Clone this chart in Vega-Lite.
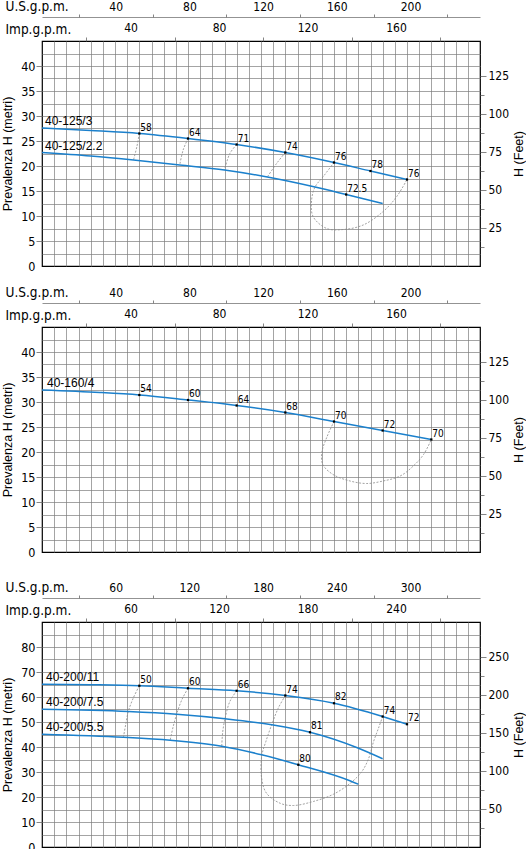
{
  "$schema": "https://vega.github.io/schema/vega-lite/v6.json",
  "padding": {"left": 1, "top": -2, "right": 0, "bottom": 2},
  "background": "white",
  "datasets": {
    "c1": [
      {"s": "40-125/3", "q": 0, "h": 27.6}, {"s": "40-125/3", "q": 100, "h": 27.1}, {"s": "40-125/3", "q": 200, "h": 26.5},
      {"s": "40-125/3", "q": 300, "h": 25.5}, {"s": "40-125/3", "q": 400, "h": 24.3}, {"s": "40-125/3", "q": 500, "h": 22.7},
      {"s": "40-125/3", "q": 600, "h": 20.7}, {"s": "40-125/3", "q": 675, "h": 19.0}, {"s": "40-125/3", "q": 750, "h": 17.3},
      {"s": "40-125/2.2", "q": 0, "h": 22.7}, {"s": "40-125/2.2", "q": 100, "h": 22.0}, {"s": "40-125/2.2", "q": 188, "h": 21.2},
      {"s": "40-125/2.2", "q": 283, "h": 20.2}, {"s": "40-125/2.2", "q": 375, "h": 19.2}, {"s": "40-125/2.2", "q": 463, "h": 17.8},
      {"s": "40-125/2.2", "q": 561, "h": 15.8}, {"s": "40-125/2.2", "q": 625, "h": 14.3}, {"s": "40-125/2.2", "q": 700, "h": 12.5}
    ],
    "e1": [
      {"q": 200, "h": 26.5, "e": "58"}, {"q": 300, "h": 25.5, "e": "64"}, {"q": 400, "h": 24.3, "e": "71"},
      {"q": 500, "h": 22.7, "e": "74"}, {"q": 600, "h": 20.7, "e": "76"}, {"q": 675, "h": 19.0, "e": "78"},
      {"q": 750, "h": 17.3, "e": "76"}, {"q": 625, "h": 14.3, "e": "72.5"}
    ],
    "d1": [
      {"s": "58", "i": 0, "q": 200, "h": 26.5}, {"s": "58", "i": 1, "q": 195, "h": 23.9}, {"s": "58", "i": 2, "q": 188, "h": 21.2},
      {"s": "64", "i": 0, "q": 300, "h": 25.5}, {"s": "64", "i": 1, "q": 290, "h": 23.2}, {"s": "64", "i": 2, "q": 283, "h": 20.2},
      {"s": "71", "i": 0, "q": 400, "h": 24.3}, {"s": "71", "i": 1, "q": 386, "h": 22.5}, {"s": "71", "i": 2, "q": 375, "h": 19.2},
      {"s": "74", "i": 0, "q": 500, "h": 22.7}, {"s": "74", "i": 1, "q": 482, "h": 20.5}, {"s": "74", "i": 2, "q": 463, "h": 17.8},
      {"s": "76", "i": 0, "q": 600, "h": 20.7}, {"s": "76", "i": 1, "q": 578, "h": 17.9}, {"s": "76", "i": 2, "q": 561, "h": 15.8},
      {"s": "76", "i": 3, "q": 554, "h": 13.2}, {"s": "76", "i": 4, "q": 557, "h": 9.9}, {"s": "76", "i": 5, "q": 585, "h": 7.5},
      {"s": "76", "i": 6, "q": 619, "h": 7.3}, {"s": "76", "i": 7, "q": 660, "h": 8.2}, {"s": "76", "i": 8, "q": 701, "h": 10.9},
      {"s": "76", "i": 9, "q": 729, "h": 13.9}, {"s": "76", "i": 10, "q": 750, "h": 17.3}
    ],
    "c2": [
      {"s": "40-160/4", "q": 0, "h": 32.4}, {"s": "40-160/4", "q": 119, "h": 31.9}, {"s": "40-160/4", "q": 200, "h": 31.4},
      {"s": "40-160/4", "q": 300, "h": 30.4}, {"s": "40-160/4", "q": 400, "h": 29.3}, {"s": "40-160/4", "q": 500, "h": 27.9},
      {"s": "40-160/4", "q": 600, "h": 26.1}, {"s": "40-160/4", "q": 700, "h": 24.3}, {"s": "40-160/4", "q": 800, "h": 22.5}
    ],
    "e2": [
      {"q": 200, "h": 31.4, "e": "54"}, {"q": 300, "h": 30.4, "e": "60"}, {"q": 400, "h": 29.3, "e": "64"},
      {"q": 500, "h": 27.9, "e": "68"}, {"q": 600, "h": 26.1, "e": "70"}, {"q": 700, "h": 24.3, "e": "72"},
      {"q": 800, "h": 22.5, "e": "70"}
    ],
    "d2": [
      {"s": "70", "i": 0, "q": 600, "h": 26.1}, {"s": "70", "i": 1, "q": 585, "h": 22.9}, {"s": "70", "i": 2, "q": 575, "h": 19.9},
      {"s": "70", "i": 3, "q": 577, "h": 17.5}, {"s": "70", "i": 4, "q": 598, "h": 15.5}, {"s": "70", "i": 5, "q": 633, "h": 14.2},
      {"s": "70", "i": 6, "q": 667, "h": 13.7}, {"s": "70", "i": 7, "q": 701, "h": 14.2}, {"s": "70", "i": 8, "q": 736, "h": 15.2},
      {"s": "70", "i": 9, "q": 763, "h": 17.2}, {"s": "70", "i": 10, "q": 784, "h": 19.5}, {"s": "70", "i": 11, "q": 800, "h": 22.5}
    ],
    "c3": [
      {"s": "40-200/11", "q": 0, "h": 65.1}, {"s": "40-200/11", "q": 150, "h": 64.9}, {"s": "40-200/11", "q": 300, "h": 64.5},
      {"s": "40-200/11", "q": 450, "h": 63.5}, {"s": "40-200/11", "q": 600, "h": 62.5}, {"s": "40-200/11", "q": 750, "h": 60.6},
      {"s": "40-200/11", "q": 900, "h": 57.5}, {"s": "40-200/11", "q": 1050, "h": 52.2}, {"s": "40-200/11", "q": 1125, "h": 49.1},
      {"s": "40-200/7.5", "q": 0, "h": 55.1}, {"s": "40-200/7.5", "q": 266, "h": 54.2}, {"s": "40-200/7.5", "q": 415, "h": 53.1},
      {"s": "40-200/7.5", "q": 564, "h": 51.3}, {"s": "40-200/7.5", "q": 708, "h": 48.9}, {"s": "40-200/7.5", "q": 826, "h": 45.9},
      {"s": "40-200/7.5", "q": 970, "h": 39.8}, {"s": "40-200/7.5", "q": 1050, "h": 35.3},
      {"s": "40-200/5.5", "q": 0, "h": 45.1}, {"s": "40-200/5.5", "q": 251, "h": 43.9}, {"s": "40-200/5.5", "q": 395, "h": 42.7},
      {"s": "40-200/5.5", "q": 554, "h": 40.3}, {"s": "40-200/5.5", "q": 677, "h": 36.9}, {"s": "40-200/5.5", "q": 790, "h": 32.9},
      {"s": "40-200/5.5", "q": 949, "h": 26.5}, {"s": "40-200/5.5", "q": 975, "h": 25.1}
    ],
    "e3": [
      {"q": 300, "h": 64.5, "e": "50"}, {"q": 450, "h": 63.5, "e": "60"}, {"q": 600, "h": 62.5, "e": "66"},
      {"q": 750, "h": 60.6, "e": "74"}, {"q": 900, "h": 57.5, "e": "82"}, {"q": 1050, "h": 52.2, "e": "74"},
      {"q": 1125, "h": 49.1, "e": "72"}, {"q": 826, "h": 45.9, "e": "81"}, {"q": 790, "h": 32.9, "e": "80"}
    ],
    "d3": [
      {"s": "50", "i": 0, "q": 300, "h": 64.5}, {"s": "50", "i": 1, "q": 281, "h": 59.5}, {"s": "50", "i": 2, "q": 266, "h": 54.2},
      {"s": "50", "i": 3, "q": 258, "h": 49.0}, {"s": "50", "i": 4, "q": 251, "h": 43.9},
      {"s": "60", "i": 0, "q": 450, "h": 63.5}, {"s": "60", "i": 1, "q": 431, "h": 58.9}, {"s": "60", "i": 2, "q": 415, "h": 53.1},
      {"s": "60", "i": 3, "q": 404, "h": 48.0}, {"s": "60", "i": 4, "q": 395, "h": 42.7},
      {"s": "66", "i": 0, "q": 600, "h": 62.5}, {"s": "66", "i": 1, "q": 579, "h": 58.2}, {"s": "66", "i": 2, "q": 564, "h": 51.3},
      {"s": "66", "i": 3, "q": 557, "h": 46.0}, {"s": "66", "i": 4, "q": 554, "h": 40.3},
      {"s": "74", "i": 0, "q": 750, "h": 60.6}, {"s": "74", "i": 1, "q": 728, "h": 55.5}, {"s": "74", "i": 2, "q": 708, "h": 48.9},
      {"s": "74", "i": 3, "q": 690, "h": 42.2}, {"s": "74", "i": 4, "q": 677, "h": 36.2}, {"s": "74", "i": 5, "q": 677, "h": 27.5},
      {"s": "74", "i": 6, "q": 692, "h": 21.5}, {"s": "74", "i": 7, "q": 734, "h": 17.5}, {"s": "74", "i": 8, "q": 775, "h": 16.6},
      {"s": "74", "i": 9, "q": 836, "h": 18.2}, {"s": "74", "i": 10, "q": 898, "h": 21.1}, {"s": "74", "i": 11, "q": 950, "h": 25.5},
      {"s": "74", "i": 12, "q": 986, "h": 30.2}, {"s": "74", "i": 13, "q": 1007, "h": 35.5}, {"s": "74", "i": 14, "q": 1022, "h": 42.2},
      {"s": "74", "i": 15, "q": 1037, "h": 47.5}, {"s": "74", "i": 16, "q": 1050, "h": 52.2}
    ]
  },
  "vconcat": [
    {
      "width": 438,
      "height": 225,
      "layer": [
        {
          "data": {"name": "d1"},
          "mark": {"type": "line", "color": "#8a8a8a", "strokeWidth": 0.8, "strokeDash": [2, 1.5], "interpolate": "catmull-rom"},
          "encoding": {
            "x": {"field": "q", "type": "quantitative", "scale": {"domain": [0, 900], "nice": false},
              "axis": {"orient": "bottom", "title": null, "labels": false, "ticks": true, "tickSize": 11.9, "tickOpacity": 0, "domain": false,
                "values": [25,50,75,100,125,150,175,200,225,250,275,300,325,350,375,400,425,450,475,500,525,550,575,600,625,650,675,700,725,750,775,800,825,850,875]}},
            "y": {"field": "h", "type": "quantitative", "scale": {"domain": [0, 45], "nice": false},
              "axis": {"orient": "left", "title": "Prevalenza H (metri)", "domain": false, "tickSize": 6, "labelPadding": 1, "titlePadding": 6,
                "values": [0,2.5,5,7.5,10,12.5,15,17.5,20,22.5,25,27.5,30,32.5,35,37.5,40,42.5,45],
                "labelExpr": "datum.value % 5 === 0 && datum.value < 45 ? datum.label : ''",
                "tickOpacity": {"condition": {"test": "datum.value % 5 !== 0 || datum.value >= 45 || datum.value === 0", "value": 0}, "value": 1},
                "gridOpacity": {"condition": {"test": "datum.value === 0 || datum.value >= 45", "value": 0}, "value": 1}}},
            "detail": {"field": "s"},
            "order": {"field": "i"}
          }
        },
        {
          "data": {"name": "c1"},
          "mark": {"type": "line", "color": "#1b80cc", "strokeWidth": 1.5, "interpolate": "monotone"},
          "encoding": {
            "x": {"field": "q", "type": "quantitative", "scale": {"domain": [0, 900], "nice": false}, "axis": null},
            "y": {"field": "h", "type": "quantitative", "scale": {"domain": [0, 45], "nice": false}, "axis": null},
            "detail": {"field": "s"}}
        },
        {
          "data": {"name": "e1"},
          "mark": {"type": "point", "shape": "square", "filled": true, "color": "#000", "size": 5, "opacity": 1},
          "encoding": {
            "x": {"field": "q", "type": "quantitative", "scale": {"domain": [0, 900], "nice": false}, "axis": null},
            "y": {"field": "h", "type": "quantitative", "scale": {"domain": [0, 45], "nice": false}, "axis": null}}
        },
        {
          "data": {"name": "e1"},
          "mark": {"type": "text", "align": "left", "baseline": "alphabetic", "dx": 1, "dy": -3, "fontSize": 10, "font": "Liberation Sans Narrow, DejaVu Sans Condensed, Liberation Sans"},
          "encoding": {
            "x": {"field": "q", "type": "quantitative", "scale": {"domain": [0, 900], "nice": false}, "axis": null},
            "y": {"field": "h", "type": "quantitative", "scale": {"domain": [0, 45], "nice": false}, "axis": null},
            "text": {"field": "e"}}
        },
        {
          "data": {"name": "c1"},
          "transform": [{"filter": "datum.q === 0"}],
          "mark": {"type": "text", "align": "left", "baseline": "alphabetic", "dx": 3, "dy": -3, "fontSize": 12, "font": "Liberation Sans"},
          "encoding": {
            "x": {"field": "q", "type": "quantitative", "scale": {"domain": [0, 900], "nice": false}, "axis": null},
            "y": {"field": "h", "type": "quantitative", "scale": {"domain": [0, 45], "nice": false}, "axis": null},
            "text": {"field": "s"}}
        },
        {
          "data": {"values": [{}]},
          "mark": {"type": "point", "opacity": 0},
          "encoding": {
            "x": {"datum": 0, "type": "quantitative", "scale": {"domain": [0, 237.75], "nice": false, "zero": false},
              "axis": {"orient": "top", "offset": 24, "values": [20,40,60,80,100,120,140,160,180,200,220],
                "labelExpr": "datum.value % 40 === 0 ? datum.label : ''",
                "tickOpacity": {"condition": {"test": "datum.value % 40 === 0", "value": 0}, "value": 1},
                "tickSize": 3, "labelPadding": 1, "labelFontSize": 12, "grid": false,
                "title": "U.S.g.p.m.", "titleAngle": 0, "titleAlign": "left", "titleBaseline": "alphabetic", "titleX": -37, "titleY": -7}},
            "y": {"datum": 0, "type": "quantitative", "scale": {"domain": [0, 1]}, "axis": null}}
        },
        {
          "data": {"values": [{}]},
          "mark": {"type": "point", "opacity": 0},
          "encoding": {
            "x": {"datum": 0, "type": "quantitative", "scale": {"domain": [0, 197.97], "nice": false, "zero": false},
              "axis": {"orient": "top", "offset": 0, "values": [20,40,60,80,100,120,140,160,180],
                "labelExpr": "datum.value % 40 === 0 ? datum.label : ''",
                "tickOpacity": {"condition": {"test": "datum.value % 40 === 0", "value": 0}, "value": 1},
                "tickSize": 4, "labelPadding": 3, "labelFontSize": 12, "grid": false, "domain": false,
                "title": "Imp.g.p.m.", "titleAngle": 0, "titleAlign": "left", "titleBaseline": "alphabetic", "titleX": -37, "titleY": -8}},
            "y": {"datum": 0, "type": "quantitative", "scale": {"domain": [0, 1]}, "axis": null}}
        },
        {
          "data": {"values": [{}]},
          "mark": {"type": "point", "opacity": 0},
          "encoding": {
            "x": {"datum": 0, "type": "quantitative", "scale": {"domain": [0, 1]}, "axis": null},
            "y": {"datum": 0, "type": "quantitative", "scale": {"domain": [0, 147.64], "nice": false, "zero": false},
              "axis": {"orient": "right", "values": [12.5,25,37.5,50,62.5,75,87.5,100,112.5,125],
                "labelExpr": "datum.value % 25 === 0 ? datum.label : ''",
                "tickSize": {"condition": {"test": "datum.value % 25 === 0", "value": 6}, "value": 4},
                "labelPadding": 2, "labelFontSize": 12, "grid": false, "domain": false,
                "title": "H (Feet)", "titleAngle": 270, "titleBaseline": "top", "titlePadding": 4}}}
        }
      ],
      "resolve": {"scale": {"x": "independent", "y": "independent"}}
    },
    {
      "width": 438,
      "height": 225,
      "layer": [
        {
          "data": {"name": "d2"},
          "mark": {"type": "line", "color": "#8a8a8a", "strokeWidth": 0.8, "strokeDash": [2, 1.5], "interpolate": "catmull-rom"},
          "encoding": {
            "x": {"field": "q", "type": "quantitative", "scale": {"domain": [0, 900], "nice": false},
              "axis": {"orient": "bottom", "title": null, "labels": false, "ticks": true, "tickSize": 20.8, "tickOpacity": 0, "domain": false,
                "values": [25,50,75,100,125,150,175,200,225,250,275,300,325,350,375,400,425,450,475,500,525,550,575,600,625,650,675,700,725,750,775,800,825,850,875]}},
            "y": {"field": "h", "type": "quantitative", "scale": {"domain": [0, 45], "nice": false},
              "axis": {"orient": "left", "title": "Prevalenza H (metri)", "domain": false, "tickSize": 6, "labelPadding": 1, "titlePadding": 6,
                "values": [0,2.5,5,7.5,10,12.5,15,17.5,20,22.5,25,27.5,30,32.5,35,37.5,40,42.5,45],
                "labelExpr": "datum.value % 5 === 0 && datum.value < 45 ? datum.label : ''",
                "tickOpacity": {"condition": {"test": "datum.value % 5 !== 0 || datum.value >= 45 || datum.value === 0", "value": 0}, "value": 1},
                "gridOpacity": {"condition": {"test": "datum.value === 0 || datum.value >= 45", "value": 0}, "value": 1}}},
            "detail": {"field": "s"},
            "order": {"field": "i"}
          }
        },
        {
          "data": {"name": "c2"},
          "mark": {"type": "line", "color": "#1b80cc", "strokeWidth": 1.5, "interpolate": "monotone"},
          "encoding": {
            "x": {"field": "q", "type": "quantitative", "scale": {"domain": [0, 900], "nice": false}, "axis": null},
            "y": {"field": "h", "type": "quantitative", "scale": {"domain": [0, 45], "nice": false}, "axis": null},
            "detail": {"field": "s"}}
        },
        {
          "data": {"name": "e2"},
          "mark": {"type": "point", "shape": "square", "filled": true, "color": "#000", "size": 5, "opacity": 1},
          "encoding": {
            "x": {"field": "q", "type": "quantitative", "scale": {"domain": [0, 900], "nice": false}, "axis": null},
            "y": {"field": "h", "type": "quantitative", "scale": {"domain": [0, 45], "nice": false}, "axis": null}}
        },
        {
          "data": {"name": "e2"},
          "mark": {"type": "text", "align": "left", "baseline": "alphabetic", "dx": 1, "dy": -3, "fontSize": 10, "font": "Liberation Sans Narrow, DejaVu Sans Condensed, Liberation Sans"},
          "encoding": {
            "x": {"field": "q", "type": "quantitative", "scale": {"domain": [0, 900], "nice": false}, "axis": null},
            "y": {"field": "h", "type": "quantitative", "scale": {"domain": [0, 45], "nice": false}, "axis": null},
            "text": {"field": "e"}}
        },
        {
          "data": {"name": "c2"},
          "transform": [{"filter": "datum.q === 0"}],
          "mark": {"type": "text", "align": "left", "baseline": "alphabetic", "dx": 5, "dy": -3, "fontSize": 12, "font": "Liberation Sans"},
          "encoding": {
            "x": {"field": "q", "type": "quantitative", "scale": {"domain": [0, 900], "nice": false}, "axis": null},
            "y": {"field": "h", "type": "quantitative", "scale": {"domain": [0, 45], "nice": false}, "axis": null},
            "text": {"field": "s"}}
        },
        {
          "data": {"values": [{}]},
          "mark": {"type": "point", "opacity": 0},
          "encoding": {
            "x": {"datum": 0, "type": "quantitative", "scale": {"domain": [0, 237.75], "nice": false, "zero": false},
              "axis": {"orient": "top", "offset": 24, "values": [20,40,60,80,100,120,140,160,180,200,220],
                "labelExpr": "datum.value % 40 === 0 ? datum.label : ''",
                "tickOpacity": {"condition": {"test": "datum.value % 40 === 0", "value": 0}, "value": 1},
                "tickSize": 3, "labelPadding": 1, "labelFontSize": 12, "grid": false,
                "title": "U.S.g.p.m.", "titleAngle": 0, "titleAlign": "left", "titleBaseline": "alphabetic", "titleX": -37, "titleY": -7}},
            "y": {"datum": 0, "type": "quantitative", "scale": {"domain": [0, 1]}, "axis": null}}
        },
        {
          "data": {"values": [{}]},
          "mark": {"type": "point", "opacity": 0},
          "encoding": {
            "x": {"datum": 0, "type": "quantitative", "scale": {"domain": [0, 197.97], "nice": false, "zero": false},
              "axis": {"orient": "top", "offset": 0, "values": [20,40,60,80,100,120,140,160,180],
                "labelExpr": "datum.value % 40 === 0 ? datum.label : ''",
                "tickOpacity": {"condition": {"test": "datum.value % 40 === 0", "value": 0}, "value": 1},
                "tickSize": 4, "labelPadding": 3, "labelFontSize": 12, "grid": false, "domain": false,
                "title": "Imp.g.p.m.", "titleAngle": 0, "titleAlign": "left", "titleBaseline": "alphabetic", "titleX": -37, "titleY": -8}},
            "y": {"datum": 0, "type": "quantitative", "scale": {"domain": [0, 1]}, "axis": null}}
        },
        {
          "data": {"values": [{}]},
          "mark": {"type": "point", "opacity": 0},
          "encoding": {
            "x": {"datum": 0, "type": "quantitative", "scale": {"domain": [0, 1]}, "axis": null},
            "y": {"datum": 0, "type": "quantitative", "scale": {"domain": [0, 147.64], "nice": false, "zero": false},
              "axis": {"orient": "right", "values": [12.5,25,37.5,50,62.5,75,87.5,100,112.5,125],
                "labelExpr": "datum.value % 25 === 0 ? datum.label : ''",
                "tickSize": {"condition": {"test": "datum.value % 25 === 0", "value": 6}, "value": 4},
                "labelPadding": 2, "labelFontSize": 12, "grid": false, "domain": false,
                "title": "H (Feet)", "titleAngle": 270, "titleBaseline": "top", "titlePadding": 4}}}
        }
      ],
      "resolve": {"scale": {"x": "independent", "y": "independent"}}
    },
    {
      "width": 438,
      "height": 225,
      "layer": [
        {
          "data": {"name": "d3"},
          "mark": {"type": "line", "color": "#8a8a8a", "strokeWidth": 0.8, "strokeDash": [2, 1.5], "interpolate": "catmull-rom"},
          "encoding": {
            "x": {"field": "q", "type": "quantitative", "scale": {"domain": [0, 1350], "nice": false},
              "axis": {"orient": "bottom", "title": null, "labels": false, "ticks": false, "domain": false,
                "values": [37.5,75,112.5,150,187.5,225,262.5,300,337.5,375,412.5,450,487.5,525,562.5,600,637.5,675,712.5,750,787.5,825,862.5,900,937.5,975,1012.5,1050,1087.5,1125,1162.5,1200,1237.5,1275,1312.5]}},
            "y": {"field": "h", "type": "quantitative", "scale": {"domain": [0, 90], "nice": false},
              "axis": {"orient": "left", "title": "Prevalenza H (metri)", "domain": false, "tickSize": 6, "labelPadding": 1, "titlePadding": 6,
                "values": [0,5,10,15,20,25,30,35,40,45,50,55,60,65,70,75,80,85,90],
                "labelExpr": "datum.value % 10 === 0 && datum.value < 90 ? datum.label : ''",
                "tickOpacity": {"condition": {"test": "datum.value % 10 !== 0 || datum.value >= 90 || datum.value === 0", "value": 0}, "value": 1},
                "gridOpacity": {"condition": {"test": "datum.value === 0 || datum.value >= 90", "value": 0}, "value": 1}}},
            "detail": {"field": "s"},
            "order": {"field": "i"}
          }
        },
        {
          "data": {"name": "c3"},
          "mark": {"type": "line", "color": "#1b80cc", "strokeWidth": 1.5, "interpolate": "monotone"},
          "encoding": {
            "x": {"field": "q", "type": "quantitative", "scale": {"domain": [0, 1350], "nice": false}, "axis": null},
            "y": {"field": "h", "type": "quantitative", "scale": {"domain": [0, 90], "nice": false}, "axis": null},
            "detail": {"field": "s"}}
        },
        {
          "data": {"name": "e3"},
          "mark": {"type": "point", "shape": "square", "filled": true, "color": "#000", "size": 5, "opacity": 1},
          "encoding": {
            "x": {"field": "q", "type": "quantitative", "scale": {"domain": [0, 1350], "nice": false}, "axis": null},
            "y": {"field": "h", "type": "quantitative", "scale": {"domain": [0, 90], "nice": false}, "axis": null}}
        },
        {
          "data": {"name": "e3"},
          "mark": {"type": "text", "align": "left", "baseline": "alphabetic", "dx": 1, "dy": -3, "fontSize": 10, "font": "Liberation Sans Narrow, DejaVu Sans Condensed, Liberation Sans"},
          "encoding": {
            "x": {"field": "q", "type": "quantitative", "scale": {"domain": [0, 1350], "nice": false}, "axis": null},
            "y": {"field": "h", "type": "quantitative", "scale": {"domain": [0, 90], "nice": false}, "axis": null},
            "text": {"field": "e"}}
        },
        {
          "data": {"name": "c3"},
          "transform": [{"filter": "datum.q === 0"}],
          "mark": {"type": "text", "align": "left", "baseline": "alphabetic", "dx": 4, "dy": -3, "fontSize": 12, "font": "Liberation Sans"},
          "encoding": {
            "x": {"field": "q", "type": "quantitative", "scale": {"domain": [0, 1350], "nice": false}, "axis": null},
            "y": {"field": "h", "type": "quantitative", "scale": {"domain": [0, 90], "nice": false}, "axis": null},
            "text": {"field": "s"}}
        },
        {
          "data": {"values": [{}]},
          "mark": {"type": "point", "opacity": 0},
          "encoding": {
            "x": {"datum": 0, "type": "quantitative", "scale": {"domain": [0, 356.63], "nice": false, "zero": false},
              "axis": {"orient": "top", "offset": 24, "values": [30,60,90,120,150,180,210,240,270,300,330],
                "labelExpr": "datum.value % 60 === 0 ? datum.label : ''",
                "tickOpacity": {"condition": {"test": "datum.value % 60 === 0", "value": 0}, "value": 1},
                "tickSize": 3, "labelPadding": 1, "labelFontSize": 12, "grid": false,
                "title": "U.S.g.p.m.", "titleAngle": 0, "titleAlign": "left", "titleBaseline": "alphabetic", "titleX": -37, "titleY": -7}},
            "y": {"datum": 0, "type": "quantitative", "scale": {"domain": [0, 1]}, "axis": null}}
        },
        {
          "data": {"values": [{}]},
          "mark": {"type": "point", "opacity": 0},
          "encoding": {
            "x": {"datum": 0, "type": "quantitative", "scale": {"domain": [0, 296.96], "nice": false, "zero": false},
              "axis": {"orient": "top", "offset": 0, "values": [30,60,90,120,150,180,210,240,270],
                "labelExpr": "datum.value % 60 === 0 ? datum.label : ''",
                "tickOpacity": {"condition": {"test": "datum.value % 60 === 0", "value": 0}, "value": 1},
                "tickSize": 4, "labelPadding": 3, "labelFontSize": 12, "grid": false, "domain": false,
                "title": "Imp.g.p.m.", "titleAngle": 0, "titleAlign": "left", "titleBaseline": "alphabetic", "titleX": -37, "titleY": -8}},
            "y": {"datum": 0, "type": "quantitative", "scale": {"domain": [0, 1]}, "axis": null}}
        },
        {
          "data": {"values": [{}]},
          "mark": {"type": "point", "opacity": 0},
          "encoding": {
            "x": {"datum": 0, "type": "quantitative", "scale": {"domain": [0, 1]}, "axis": null},
            "y": {"datum": 0, "type": "quantitative", "scale": {"domain": [0, 295.28], "nice": false, "zero": false},
              "axis": {"orient": "right", "values": [25,50,75,100,125,150,175,200,225,250],
                "labelExpr": "datum.value % 50 === 0 ? datum.label : ''",
                "tickSize": {"condition": {"test": "datum.value % 50 === 0", "value": 6}, "value": 4},
                "labelPadding": 2, "labelFontSize": 12, "grid": false, "domain": false,
                "title": "H (Feet)", "titleAngle": 270, "titleBaseline": "top", "titlePadding": 4}}}
        }
      ],
      "resolve": {"scale": {"x": "independent", "y": "independent"}}
    }
  ],
  "spacing": 5,
  "config": {
    "view": {"stroke": "#000", "strokeWidth": 1.2},
    "axis": {
      "labelFont": "Liberation Sans Narrow, DejaVu Sans Condensed, Liberation Sans",
      "labelFontSize": 12.5,
      "labelColor": "#000",
      "labelFlush": false,
      "labelOverlap": false,
      "titleFont": "Liberation Sans",
      "titleFontSize": 12.5,
      "titleFontWeight": "normal",
      "titleColor": "#000",
      "gridColor": "#7d7d7d",
      "gridWidth": 0.7,
      "gridOpacity": 1,
      "tickColor": "#666",
      "tickWidth": 0.8,
      "domainColor": "#777",
      "domainWidth": 0.8
    },
    "axisTop": {"titleFont": "Liberation Sans Narrow, DejaVu Sans Condensed, Liberation Sans", "titleFontSize": 13.5}
  }
}
